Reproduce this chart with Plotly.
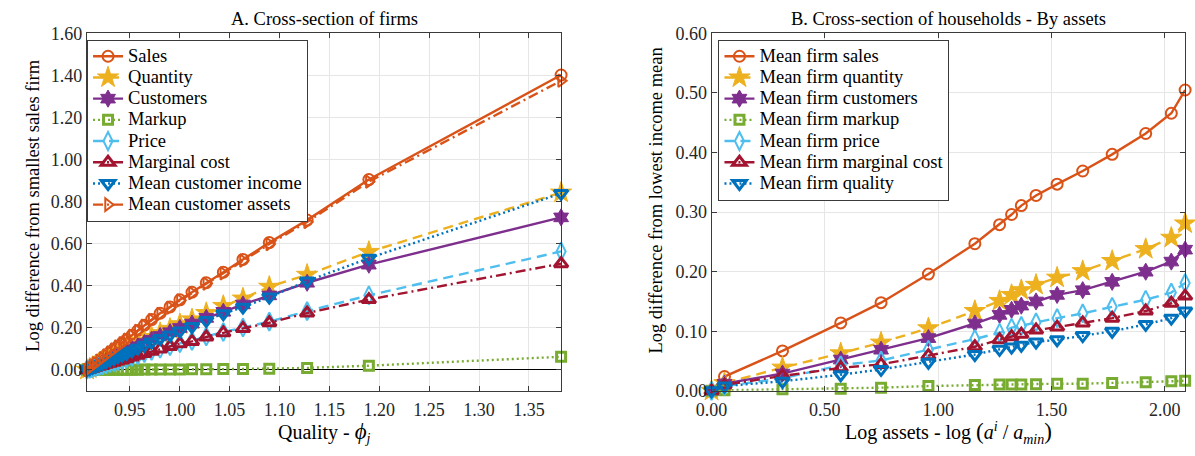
import plotly.graph_objects as go

# ---------------- data: panel A (cross-section of firms) ----------------
quality = [0.9070, 0.9098, 0.9127, 0.9157, 0.9192, 0.9226, 0.9261, 0.9300, 0.9340,
           0.9379, 0.9424, 0.9468, 0.9521, 0.9580, 0.9646, 0.9718, 0.9804, 0.9903,
           1.0002, 1.0123, 1.0266, 1.0437, 1.0634, 1.0898, 1.1277, 1.1896, 1.3823]
a_sales = [0, 0.010, 0.021, 0.032, 0.045, 0.057, 0.070, 0.084, 0.098, 0.112, 0.128, 0.144,
           0.164, 0.187, 0.212, 0.239, 0.269, 0.299, 0.333, 0.369, 0.414, 0.464, 0.525,
           0.605, 0.712, 0.905, 1.402]
a_quantity = [0, 0.0065, 0.0137, 0.021, 0.029, 0.037, 0.0455, 0.0546, 0.064, 0.073, 0.083,
              0.094, 0.107, 0.122, 0.138, 0.156, 0.175, 0.195, 0.217, 0.240, 0.270, 0.304,
              0.339, 0.395, 0.452, 0.561, 0.843]
a_customers = [0, 0.006, 0.0126, 0.019, 0.027, 0.034, 0.042, 0.050, 0.059, 0.067, 0.077,
               0.086, 0.098, 0.112, 0.127, 0.143, 0.161, 0.179, 0.199, 0.220, 0.247, 0.276,
               0.311, 0.354, 0.414, 0.500, 0.725]
a_markup = [0, 0, 0, 0, 0, 0, 0, 0, 0, 0, 0, 0, 0.0005, 0.0007, 0.001, 0.0012, 0.0015,
            0.0018, 0.002, 0.0025, 0.003, 0.0035, 0.004, 0.005, 0.009, 0.0196, 0.062]
a_price = [0, 0.0037, 0.0078, 0.0118, 0.0166, 0.021, 0.026, 0.031, 0.036, 0.0414, 0.047,
           0.053, 0.0615, 0.0697, 0.079, 0.0892, 0.100, 0.1128, 0.126, 0.1375, 0.159,
           0.1795, 0.201, 0.229, 0.279, 0.354, 0.563]
a_mc = [0, 0.0037, 0.0078, 0.0118, 0.0166, 0.021, 0.026, 0.031, 0.036, 0.0414, 0.047,
        0.053, 0.061, 0.069, 0.078, 0.088, 0.0985, 0.111, 0.124, 0.135, 0.156, 0.176,
        0.197, 0.224, 0.270, 0.334, 0.505]
a_income = [0, 0.0055, 0.0115, 0.0176, 0.0248, 0.031, 0.0385, 0.046, 0.054, 0.0616, 0.070,
            0.079, 0.090, 0.103, 0.117, 0.132, 0.149, 0.166, 0.185, 0.206, 0.234, 0.267,
            0.298, 0.346, 0.422, 0.531, 0.839]
a_assets = [0, 0.010, 0.021, 0.032, 0.044, 0.056, 0.069, 0.083, 0.097, 0.111, 0.127, 0.143,
            0.162, 0.185, 0.210, 0.237, 0.266, 0.296, 0.330, 0.365, 0.410, 0.459, 0.519,
            0.598, 0.703, 0.895, 1.375]

# ---------------- data: panel B (cross-section of households) ----------------
log_assets = [0, 0.057, 0.313, 0.570, 0.748, 0.957, 1.162, 1.271, 1.324, 1.367, 1.432,
              1.525, 1.638, 1.768, 1.916, 2.029, 2.090]
b_sales = [0, 0.024, 0.067, 0.114, 0.148, 0.196, 0.247, 0.279, 0.296, 0.311, 0.328, 0.347,
           0.369, 0.397, 0.432, 0.466, 0.505]
b_quantity = [0, 0.013, 0.039, 0.063, 0.081, 0.105, 0.134, 0.151, 0.161, 0.169, 0.178,
              0.190, 0.201, 0.218, 0.238, 0.257, 0.281]
b_customers = [0, 0.012, 0.029, 0.0525, 0.069, 0.0885, 0.113, 0.1275, 0.136, 0.143, 0.150,
               0.161, 0.169, 0.183, 0.200, 0.217, 0.237]
b_markup = [0, 0.001, 0.0026, 0.0037, 0.0053, 0.008, 0.0096, 0.0106, 0.0106, 0.0106, 0.011,
            0.012, 0.012, 0.013, 0.0145, 0.016, 0.017]
b_price = [0, 0.008, 0.021, 0.043, 0.051, 0.069, 0.087, 0.0975, 0.106, 0.109, 0.115, 0.122,
           0.130, 0.141, 0.153, 0.165, 0.181]
b_mc = [0, 0.010, 0.025, 0.0386, 0.0444, 0.059, 0.074, 0.0857, 0.091, 0.095, 0.102, 0.107,
        0.114, 0.122, 0.134, 0.147, 0.159]
b_quality = [0, 0.008, 0.016, 0.027, 0.036, 0.048, 0.061, 0.0697, 0.0734, 0.0766, 0.082,
             0.0857, 0.0927, 0.100, 0.1115, 0.122, 0.134]

names_a = ["Sales", "Quantity", "Customers", "Markup", "Price", "Marginal cost",
           "Mean customer income", "Mean customer assets"]
names_b = ["Mean firm sales", "Mean firm quantity", "Mean firm customers", "Mean firm markup",
           "Mean firm price", "Mean firm marginal cost", "Mean firm quality"]

# ---------------- styles ----------------
ORANGE, YELLOW, PURPLE, GREEN = "#D95319", "#EDB120", "#7E2F8E", "#77AC30"
LBLUE, DRED, BLUE = "#4DBEEE", "#A2142F", "#0072BD"
DASH, DOT, DASHDOT = "10px,6px", "2px,3px", "10px,4px,2px,4px"

styles = {
    "sales": dict(color=ORANGE, dash="solid", symbol="circle-open", size=11, lw=2),
    "quantity": dict(color=YELLOW, dash=DASH, symbol="star", size=16, lw=1),
    "customers": dict(color=PURPLE, dash="solid", symbol="hexagram", size=13, lw=1),
    "markup": dict(color=GREEN, dash=DOT, symbol="square-open", size=9, lw=3),
    "price": dict(color=LBLUE, dash=DASH, symbol="diamond-tall-open", size=13, lw=2),
    "mc": dict(color=DRED, dash=DASHDOT, symbol="triangle-up-open", size=12, lw=3),
    "income": dict(color=BLUE, dash=DOT, symbol="triangle-down-open", size=12, lw=3),
    "assets": dict(color=ORANGE, dash=DASHDOT, symbol="triangle-right-open", size=11, lw=2),
}

FONT = "Liberation Serif"
W, H = 1195, 456
LEG_TXT = 18.5

fig = go.Figure()


def add(x, y, name, st, xa, ya, leg):
    s = styles[st]
    fig.add_trace(go.Scatter(
        x=x, y=y, name=f'<span style="font-size:{LEG_TXT}px">{name}</span>',
        mode="lines+markers", xaxis=xa, yaxis=ya, legend=leg, cliponaxis=False,
        line=dict(color=s["color"], width=2.4, dash=s["dash"]),
        marker=dict(symbol=s["symbol"], size=s["size"], color=s["color"],
                    line=dict(color=s["color"], width=s["lw"]))))


series_a = [a_sales, a_quantity, a_customers, a_markup, a_price, a_mc, a_income, a_assets]
keys_a = ["sales", "quantity", "customers", "markup", "price", "mc", "income", "assets"]
for ys, nm, k in zip(series_a, names_a, keys_a):
    add(quality, ys, nm, k, "x", "y", "legend")

series_b = [b_sales, b_quantity, b_customers, b_markup, b_price, b_mc, b_quality]
keys_b = ["sales", "quantity", "customers", "markup", "price", "mc", "income"]
for ys, nm, k in zip(series_b, names_b, keys_b):
    add(log_assets, ys, nm, k, "x2", "y2", "legend2")

axis_common = dict(showline=True, linecolor="#3a3a3a", linewidth=1, mirror="ticks",
                   ticks="inside", ticklen=5, tickcolor="#3a3a3a", showgrid=True,
                   gridcolor="#e6e6e6", gridwidth=1, tickformat=".2f",
                   tickfont=dict(family=FONT, size=18, color="#262626"))

y_dom = [1 - 398.3 / H, 1 - 24.5 / H]
xa_dom = [71.7 / W, 552.7 / W]
xb_dom = [705 / W, 1185 / W]

leg_common = dict(xanchor="left", yanchor="top", bgcolor="white", bordercolor="#3a3a3a",
                  borderwidth=1, tracegroupgap=0,
                  font=dict(family=FONT, size=14, color="black"))

fig.update_layout(
    width=W, height=H, margin=dict(l=0, r=0, t=0, b=0),
    paper_bgcolor="white", plot_bgcolor="white",
    font=dict(family=FONT, color="black"),
    xaxis=dict(domain=xa_dom, anchor="y", range=[0.9068, 1.3825], tick0=0.95, dtick=0.05,
               zeroline=False, ticklabelstandoff=3, **axis_common),
    yaxis=dict(domain=y_dom, anchor="x", range=[-0.1, 1.6], tick0=0, dtick=0.2,
               zeroline=True, zerolinecolor="black", zerolinewidth=1.2, **axis_common),
    xaxis2=dict(domain=xb_dom, anchor="y2", range=[0, 2.09], tick0=0, dtick=0.5,
                zeroline=False, ticklabelstandoff=3, **axis_common),
    yaxis2=dict(domain=y_dom, anchor="x2", range=[0, 0.6], tick0=0, dtick=0.1,
                zeroline=True, zerolinecolor="black", zerolinewidth=1.5, **axis_common),
    legend=dict(x=72 / W, y=1 - 31 / H, **leg_common),
    legend2=dict(x=712 / W, y=1 - 31 / H, **leg_common),
    showlegend=True,
)

ann_font = dict(family=FONT, size=18.5, color="black")
xt_font = dict(family=FONT, size=20, color="black")
big = '<span style="font-size:23px">'
anns = [
    dict(text="A. Cross-section of firms", x=(xa_dom[0] + xa_dom[1]) / 2, y=1 - 9 / H,
         font=ann_font),
    dict(text="B. Cross-section of households - By assets", x=(xb_dom[0] + xb_dom[1]) / 2,
         y=1 - 9 / H, font=ann_font),
    dict(text="Quality&nbsp;-&nbsp;<span style='font-size:23px'><i>ϕ</i></span>"
              "<sub><i>j</i></sub>",
         x=(xa_dom[0] + xa_dom[1]) / 2, y=1 - 442 / H, font=xt_font),
    dict(text=f"Log assets - log&nbsp;{big}(</span><i>a</i><sup><i>i</i></sup>&nbsp;/&nbsp;"
              f"<i>a</i><sub><i>min</i></sub>{big})</span>",
         x=(xb_dom[0] + xb_dom[1]) / 2, y=1 - 442 / H, font=xt_font),
    dict(text="Log difference from smallest sales firm", x=17 / W, y=1 - 204 / H,
         textangle=-90, font=ann_font),
    dict(text="Log difference from lowest income mean", x=649 / W, y=1 - 199 / H,
         textangle=-90, font=ann_font),
]
for a in anns:
    fig.add_annotation(xref="paper", yref="paper", showarrow=False, xanchor="center",
                       yanchor="middle", **a)

fig.write_html("out.html")
